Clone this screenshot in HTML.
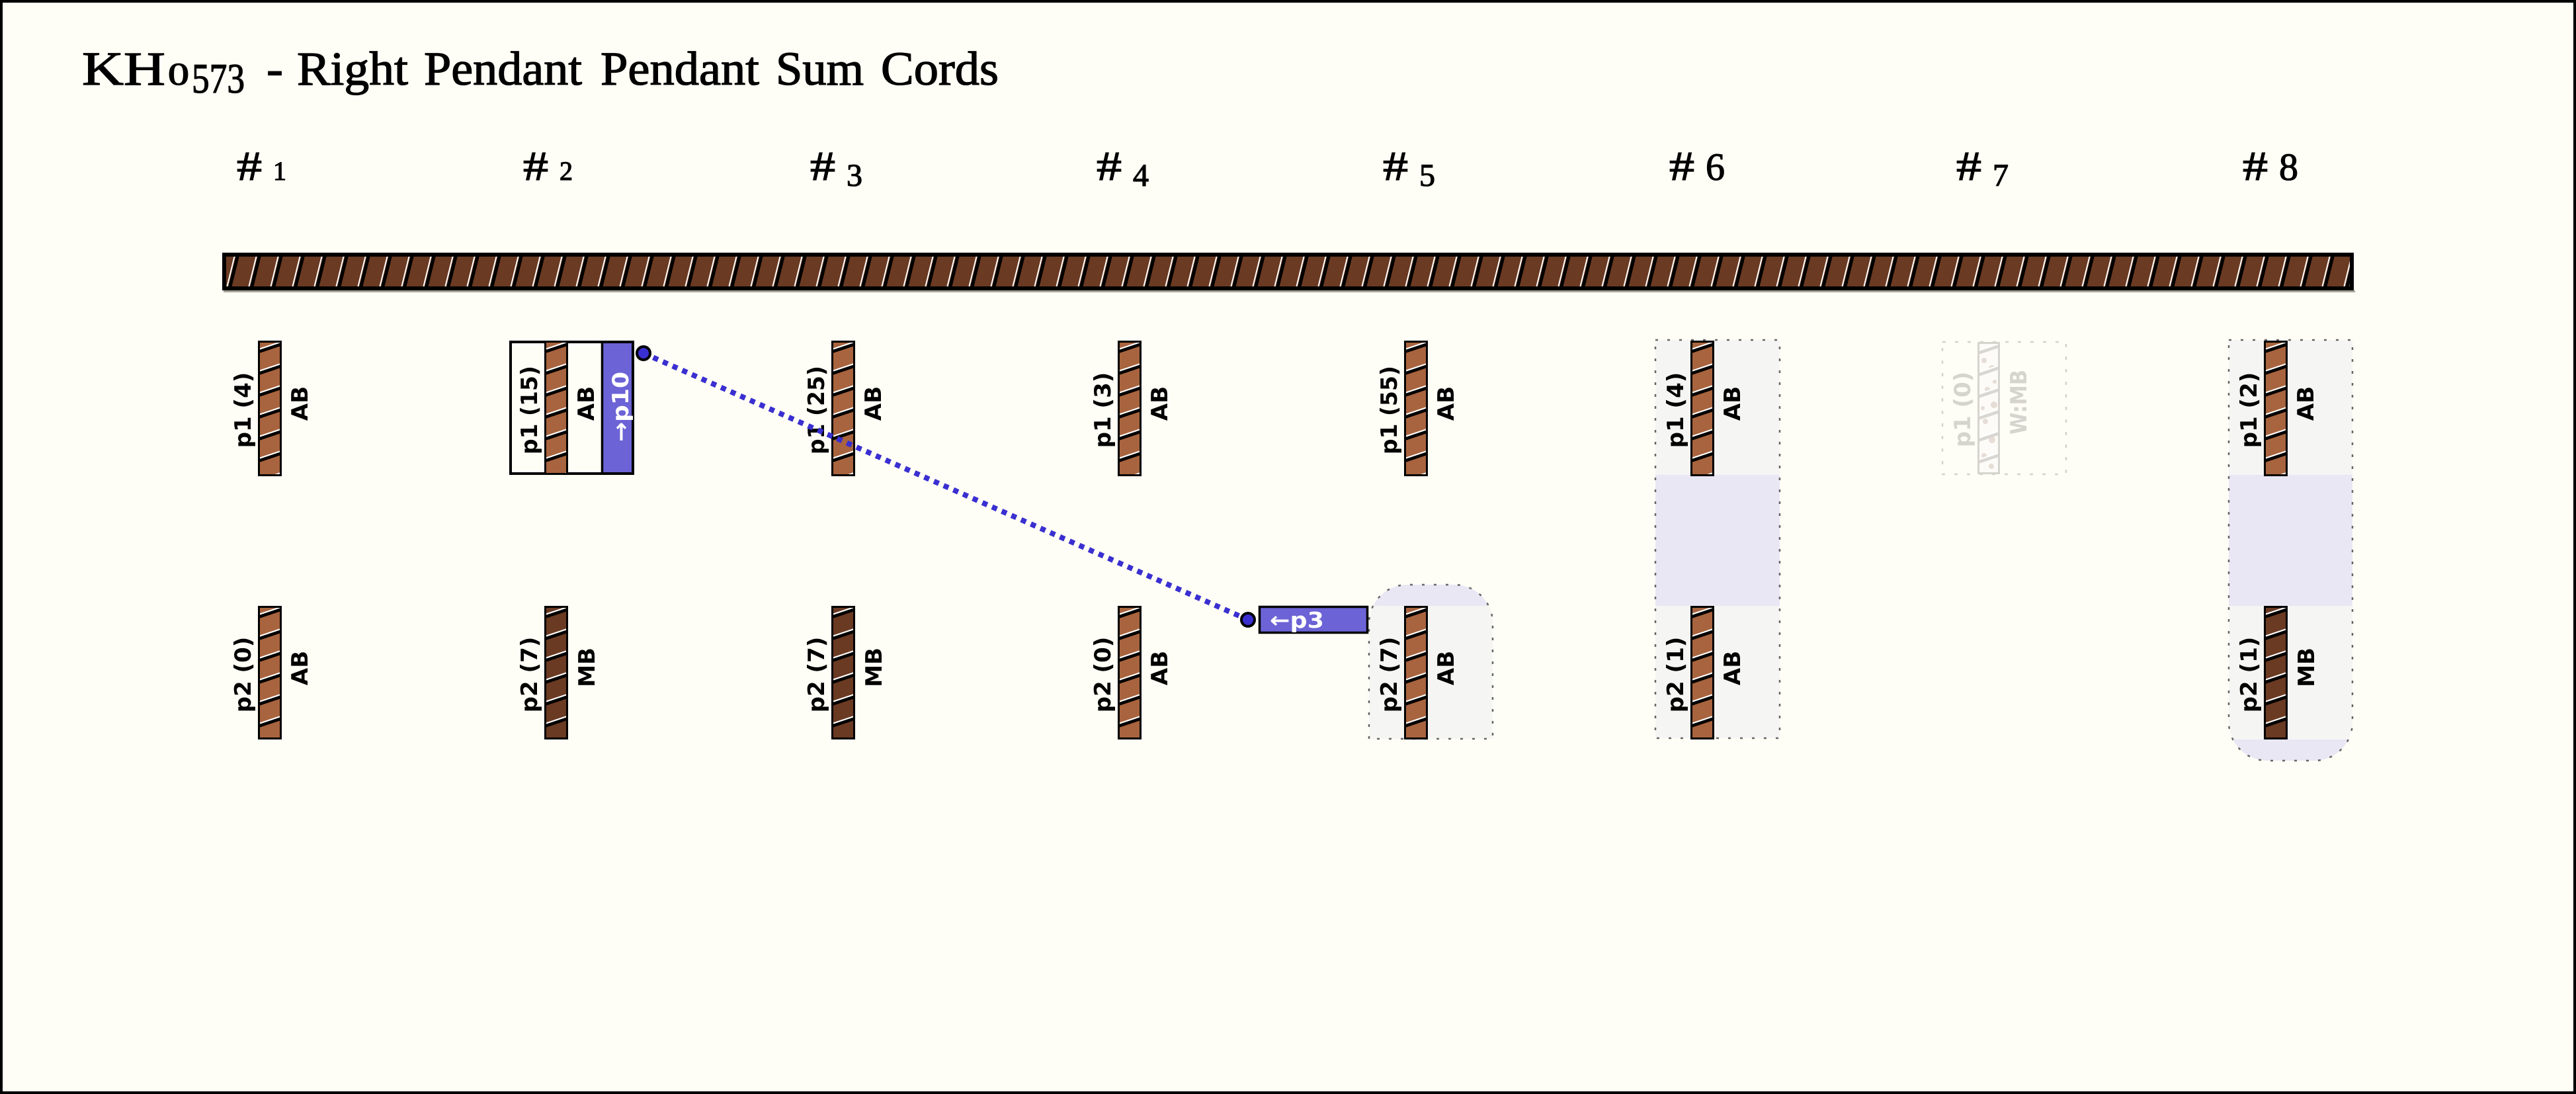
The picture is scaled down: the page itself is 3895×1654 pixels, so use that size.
<!DOCTYPE html>
<html>
<head>
<meta charset="utf-8">
<style>
html,body{margin:0;padding:0;background:#fefef6;}
svg{display:block;}
.ttl{font-family:"Liberation Serif",serif;fill:#000;}
.lb{font-family:"DejaVu Sans","Liberation Sans",sans-serif;font-weight:bold;font-size:34px;fill:#000;}
.fd{fill:#d6d4ce;}
</style>
</head>
<body>
<svg width="3895" height="1654" viewBox="0 0 3895 1654" xmlns="http://www.w3.org/2000/svg">
<defs>
  <pattern id="pp" patternUnits="userSpaceOnUse" x="0" y="0" width="36" height="33">
    <line x1="-3" y1="18" x2="39" y2="4" stroke="#000" stroke-width="5"/>
    <line x1="-3" y1="14.5" x2="39" y2="0.5" stroke="#fff" stroke-width="2.2"/>
  </pattern>
  <pattern id="pf" patternUnits="userSpaceOnUse" x="0" y="0" width="36" height="33">
    <line x1="-3" y1="18" x2="39" y2="4" stroke="#d9d7d1" stroke-width="5"/>
    <line x1="-3" y1="14.5" x2="39" y2="0.5" stroke="#fff" stroke-width="2.2"/>
  </pattern>
  <pattern id="mp" patternUnits="userSpaceOnUse" x="0" y="0" width="33" height="57">
    <line x1="9.76" y1="60" x2="25.24" y2="-3" stroke="#000" stroke-width="5"/>
    <line x1="5.26" y1="60" x2="20.74" y2="-3" stroke="#fff" stroke-width="2"/>
  </pattern>
  <clipPath id="c5"><path d="M2070 1117 V942 A58 58 0 0 1 2128 884 H2199 A58 58 0 0 1 2257 942 V1117 Z"/></clipPath>
  <clipPath id="c8"><path d="M3370 514 H3557 V1092 A58 58 0 0 1 3499 1150 H3428 A58 58 0 0 1 3370 1092 Z"/></clipPath>
</defs>

<rect x="0" y="0" width="3895" height="1654" fill="#fefef6"/>
<rect x="2" y="2" width="3891" height="1650" fill="none" stroke="#000" stroke-width="4"/>

<!-- Title -->
<g class="ttl" stroke="#000" stroke-width="1.3">
<text x="124" y="128" font-size="72" textLength="126" lengthAdjust="spacingAndGlyphs">KH</text>
<text x="254" y="128" font-size="48" textLength="32" lengthAdjust="spacingAndGlyphs">0</text>
<text x="290" y="140" font-size="64" textLength="80" lengthAdjust="spacingAndGlyphs">573</text>
<text x="403" y="128" font-size="72" textLength="25" lengthAdjust="spacingAndGlyphs">-</text>
<text x="449" y="128" font-size="72" textLength="168" lengthAdjust="spacingAndGlyphs">Right</text>
<text x="641" y="128" font-size="72" textLength="239" lengthAdjust="spacingAndGlyphs">Pendant</text>
<text x="908" y="128" font-size="72" textLength="240" lengthAdjust="spacingAndGlyphs">Pendant</text>
<text x="1173" y="128" font-size="72" textLength="133" lengthAdjust="spacingAndGlyphs">Sum</text>
<text x="1332" y="128" font-size="72" textLength="178" lengthAdjust="spacingAndGlyphs">Cords</text>
</g>

<!-- Column headings -->
<g class="ttl" stroke="#000" stroke-width="1.2">
<text x="358" y="272" font-size="62" textLength="38" lengthAdjust="spacingAndGlyphs">#</text>
<text x="413" y="272" font-size="40">1</text>
<text x="791" y="272" font-size="62" textLength="38" lengthAdjust="spacingAndGlyphs">#</text>
<text x="846" y="272" font-size="40">2</text>
<text x="1225" y="272" font-size="62" textLength="38" lengthAdjust="spacingAndGlyphs">#</text>
<text x="1280" y="281" font-size="48">3</text>
<text x="1658" y="272" font-size="62" textLength="38" lengthAdjust="spacingAndGlyphs">#</text>
<text x="1713" y="281" font-size="48">4</text>
<text x="2091" y="272" font-size="62" textLength="38" lengthAdjust="spacingAndGlyphs">#</text>
<text x="2146" y="281" font-size="48">5</text>
<text x="2524" y="272" font-size="62" textLength="38" lengthAdjust="spacingAndGlyphs">#</text>
<text x="2579" y="272" font-size="58">6</text>
<text x="2958" y="272" font-size="62" textLength="38" lengthAdjust="spacingAndGlyphs">#</text>
<text x="3013" y="281" font-size="48">7</text>
<text x="3391" y="272" font-size="62" textLength="38" lengthAdjust="spacingAndGlyphs">#</text>
<text x="3446" y="272" font-size="58">8</text>
</g>

<!-- Main cord -->
<rect x="338" y="439" width="3223" height="3" fill="#a8a398"/>
<g transform="translate(336,382)">
  <rect x="0" y="0" width="3223" height="57" fill="#6b3a22"/>
  <rect x="0" y="0" width="3223" height="57" fill="url(#mp)"/>
  <rect x="3" y="3" width="3217" height="51" fill="none" stroke="#000" stroke-width="6"/>
</g>

<!-- Group boxes -->
<g clip-path="url(#c5)">
  <rect x="2060" y="880" width="210" height="36" fill="#e9e7f4"/>
  <rect x="2060" y="916" width="210" height="205" fill="#f5f5f4"/>
</g>
<path d="M2070 1117 V942 A58 58 0 0 1 2128 884 H2199 A58 58 0 0 1 2257 942 V1117 Z" fill="none" stroke="#666" stroke-width="2.5" stroke-dasharray="4 14"/>

<rect x="2503" y="514" width="188" height="204" fill="#f5f5f4"/>
<rect x="2503" y="718" width="188" height="198" fill="#e9e7f4"/>
<rect x="2503" y="916" width="188" height="200" fill="#f5f5f4"/>
<rect x="2503" y="514" width="188" height="602" fill="none" stroke="#666" stroke-width="2.5" stroke-dasharray="4 14"/>

<rect x="2937" y="517" width="187" height="200" fill="none" stroke="#d4d2cc" stroke-width="2.5" stroke-dasharray="5 14"/>

<g clip-path="url(#c8)">
  <rect x="3365" y="510" width="200" height="208" fill="#f5f5f4"/>
  <rect x="3365" y="718" width="200" height="198" fill="#e9e7f4"/>
  <rect x="3365" y="916" width="200" height="202" fill="#f5f5f4"/>
  <rect x="3365" y="1118" width="200" height="40" fill="#e9e7f4"/>
</g>
<path d="M3370 514 H3557 V1092 A58 58 0 0 1 3499 1150 H3428 A58 58 0 0 1 3370 1092 Z" fill="none" stroke="#666" stroke-width="2.5" stroke-dasharray="4 14"/>

<!-- col 2 top box -->
<rect x="772" y="517" width="185" height="199" fill="#fefef6"/>
<rect x="910" y="517" width="47" height="199" fill="#6c63d6"/>
<line x1="910.5" y1="517" x2="910.5" y2="716" stroke="#000" stroke-width="3.5"/>
<rect x="772" y="517" width="185" height="199" fill="none" stroke="#000" stroke-width="4"/>

<!-- Pendant cords: top row -->
<g transform="translate(390,515)"><rect width="36" height="205" fill="#a8643e"/><rect width="36" height="205" fill="url(#pp)"/><rect x="1.5" y="1.5" width="33" height="202" fill="none" stroke="#000" stroke-width="3"/></g>
<g transform="translate(823,515)"><rect width="36" height="203" fill="#a8643e"/><rect width="36" height="203" fill="url(#pp)"/><rect x="1.5" y="1.5" width="33" height="200" fill="none" stroke="#000" stroke-width="3"/></g>
<g transform="translate(1257,515)"><rect width="36" height="205" fill="#a8643e"/><rect width="36" height="205" fill="url(#pp)"/><rect x="1.5" y="1.5" width="33" height="202" fill="none" stroke="#000" stroke-width="3"/></g>
<g transform="translate(1690,515)"><rect width="36" height="205" fill="#a8643e"/><rect width="36" height="205" fill="url(#pp)"/><rect x="1.5" y="1.5" width="33" height="202" fill="none" stroke="#000" stroke-width="3"/></g>
<g transform="translate(2123,515)"><rect width="36" height="205" fill="#a8643e"/><rect width="36" height="205" fill="url(#pp)"/><rect x="1.5" y="1.5" width="33" height="202" fill="none" stroke="#000" stroke-width="3"/></g>
<g transform="translate(2556,515)"><rect width="36" height="205" fill="#a8643e"/><rect width="36" height="205" fill="url(#pp)"/><rect x="1.5" y="1.5" width="33" height="202" fill="none" stroke="#000" stroke-width="3"/></g>
<g transform="translate(2990,517)"><rect width="34" height="200" fill="#fcfbf7"/>
  <g fill="#e6ddd6"><circle cx="10" cy="28" r="4"/><circle cx="22" cy="40" r="5"/><circle cx="15" cy="72" r="4"/><circle cx="25" cy="95" r="5"/><circle cx="12" cy="120" r="4"/><circle cx="22" cy="148" r="5"/><circle cx="10" cy="172" r="4"/><circle cx="21" cy="188" r="4"/><circle cx="26" cy="60" r="3"/><circle cx="8" cy="100" r="3"/></g>
  <rect width="34" height="200" fill="url(#pf)"/><rect x="1.5" y="1.5" width="31" height="197" fill="none" stroke="#d6d4ce" stroke-width="3"/></g>
<g transform="translate(3423,515)"><rect width="36" height="205" fill="#a8643e"/><rect width="36" height="205" fill="url(#pp)"/><rect x="1.5" y="1.5" width="33" height="202" fill="none" stroke="#000" stroke-width="3"/></g>

<!-- Pendant cords: bottom row -->
<g transform="translate(390,916)"><rect width="36" height="202" fill="#a8643e"/><rect width="36" height="202" fill="url(#pp)"/><rect x="1.5" y="1.5" width="33" height="199" fill="none" stroke="#000" stroke-width="3"/></g>
<g transform="translate(823,916)"><rect width="36" height="202" fill="#6b3a22"/><rect width="36" height="202" fill="url(#pp)"/><rect x="1.5" y="1.5" width="33" height="199" fill="none" stroke="#000" stroke-width="3"/></g>
<g transform="translate(1257,916)"><rect width="36" height="202" fill="#6b3a22"/><rect width="36" height="202" fill="url(#pp)"/><rect x="1.5" y="1.5" width="33" height="199" fill="none" stroke="#000" stroke-width="3"/></g>
<g transform="translate(1690,916)"><rect width="36" height="202" fill="#a8643e"/><rect width="36" height="202" fill="url(#pp)"/><rect x="1.5" y="1.5" width="33" height="199" fill="none" stroke="#000" stroke-width="3"/></g>
<g transform="translate(2123,916)"><rect width="36" height="202" fill="#a8643e"/><rect width="36" height="202" fill="url(#pp)"/><rect x="1.5" y="1.5" width="33" height="199" fill="none" stroke="#000" stroke-width="3"/></g>
<g transform="translate(2556,916)"><rect width="36" height="202" fill="#a8643e"/><rect width="36" height="202" fill="url(#pp)"/><rect x="1.5" y="1.5" width="33" height="199" fill="none" stroke="#000" stroke-width="3"/></g>
<g transform="translate(3423,916)"><rect width="36" height="202" fill="#6b3a22"/><rect width="36" height="202" fill="url(#pp)"/><rect x="1.5" y="1.5" width="33" height="199" fill="none" stroke="#000" stroke-width="3"/></g>

<!-- Labels top row -->
<g class="lb" text-anchor="middle">
<text transform="translate(379,620) rotate(-90)">p1 (4)</text>
<text transform="translate(465,610) rotate(-90)">AB</text>
<text transform="translate(812,620) rotate(-90)" textLength="134" lengthAdjust="spacingAndGlyphs">p1 (15)</text>
<text transform="translate(898,610) rotate(-90)">AB</text>
<text transform="translate(950,615) rotate(-90)" style="fill:#fff" textLength="106" lengthAdjust="spacingAndGlyphs">→p10</text>
<text transform="translate(1246,620) rotate(-90)" textLength="134" lengthAdjust="spacingAndGlyphs">p1 (25)</text>
<text transform="translate(1332,610) rotate(-90)">AB</text>
<text transform="translate(1679,620) rotate(-90)">p1 (3)</text>
<text transform="translate(1765,610) rotate(-90)">AB</text>
<text transform="translate(2112,620) rotate(-90)" textLength="134" lengthAdjust="spacingAndGlyphs">p1 (55)</text>
<text transform="translate(2198,610) rotate(-90)">AB</text>
<text transform="translate(2545,620) rotate(-90)">p1 (4)</text>
<text transform="translate(2631,610) rotate(-90)">AB</text>
<text class="fd" transform="translate(2979,619) rotate(-90)">p1 (0)</text>
<text class="fd" transform="translate(3064,608) rotate(-90)" textLength="98" lengthAdjust="spacingAndGlyphs">W:MB</text>
<text transform="translate(3412,620) rotate(-90)">p1 (2)</text>
<text transform="translate(3498,610) rotate(-90)">AB</text>
</g>

<!-- Labels bottom row -->
<g class="lb" text-anchor="middle">
<text transform="translate(379,1020) rotate(-90)">p2 (0)</text>
<text transform="translate(465,1010) rotate(-90)">AB</text>
<text transform="translate(812,1020) rotate(-90)">p2 (7)</text>
<text transform="translate(899,1009) rotate(-90)">MB</text>
<text transform="translate(1246,1020) rotate(-90)">p2 (7)</text>
<text transform="translate(1333,1009) rotate(-90)">MB</text>
<text transform="translate(1679,1020) rotate(-90)">p2 (0)</text>
<text transform="translate(1765,1010) rotate(-90)">AB</text>
<text transform="translate(2112,1020) rotate(-90)">p2 (7)</text>
<text transform="translate(2198,1010) rotate(-90)">AB</text>
<text transform="translate(2545,1020) rotate(-90)">p2 (1)</text>
<text transform="translate(2631,1010) rotate(-90)">AB</text>
<text transform="translate(3412,1020) rotate(-90)">p2 (1)</text>
<text transform="translate(3499,1009) rotate(-90)">MB</text>
</g>

<!-- p3 box -->
<rect x="1904.5" y="917.5" width="163" height="39" fill="#6c63d6" stroke="#000" stroke-width="3.5"/>
<text class="lb" x="1920" y="949" style="fill:#fff;font-size:33px" textLength="82" lengthAdjust="spacingAndGlyphs">←p3</text>

<!-- Dotted connector -->
<line x1="973" y1="534" x2="1887" y2="937" stroke="#3a2fd0" stroke-width="8" stroke-dasharray="8 8"/>
<circle cx="973" cy="534" r="10" fill="#3a2fd0" stroke="#000" stroke-width="4"/>
<circle cx="1887" cy="937" r="10" fill="#3a2fd0" stroke="#000" stroke-width="4"/>

</svg>
</body>
</html>
